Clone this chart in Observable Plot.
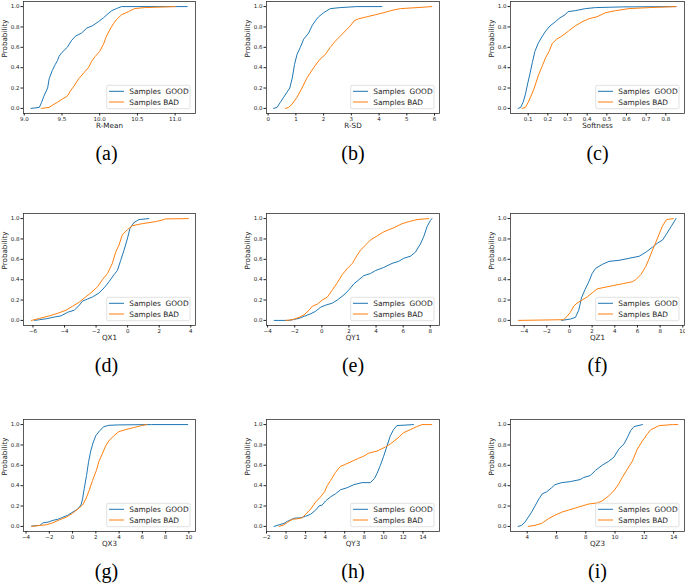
<!DOCTYPE html>
<html><head><meta charset="utf-8">
<script src="https://cdn.jsdelivr.net/npm/d3@7"></script>
<script src="https://cdn.jsdelivr.net/npm/@observablehq/plot@0.6"></script>
<style>
body{margin:0;background:#fff}
#fig{position:relative;width:685px;height:585px;overflow:hidden;background:#fff}
#fig svg{position:absolute}
</style>
</head><body><div id="fig"></div><script>
// ---------------- data ----------------
const rMeanGood = [[9.09,0],[9.2,0.01],[9.23,0.06],[9.26,0.12],[9.31,0.2],[9.33,0.29],[9.37,0.37],[9.41,0.43],[9.44,0.47],[9.46,0.51],[9.5,0.55],[9.57,0.6],[9.63,0.67],[9.68,0.71],[9.76,0.74],[9.83,0.79],[9.9,0.81],[9.98,0.85],[10.05,0.89],[10.11,0.93],[10.16,0.96],[10.22,0.98],[10.29,1.0],[11.16,1.0]];
const rMeanBad = [[9.23,0],[9.33,0.01],[9.37,0.03],[9.44,0.06],[9.5,0.09],[9.57,0.12],[9.61,0.17],[9.66,0.22],[9.72,0.29],[9.79,0.35],[9.85,0.4],[9.9,0.47],[9.94,0.51],[10.0,0.56],[10.05,0.63],[10.09,0.71],[10.14,0.78],[10.18,0.83],[10.22,0.87],[10.29,0.92],[10.38,0.95],[10.46,0.98],[10.59,0.99],[11.0,1.0]];

const rSdGood = [[0.2,0],[0.32,0.01],[0.44,0.06],[0.56,0.11],[0.68,0.16],[0.78,0.2],[0.87,0.3],[0.95,0.43],[1.04,0.53],[1.16,0.6],[1.28,0.68],[1.46,0.74],[1.58,0.81],[1.7,0.86],[1.82,0.9],[2.0,0.94],[2.24,0.98],[2.6,0.99],[3.2,1.0],[4.1,1.0]];
const rSdBad = [[0.62,0],[0.74,0.01],[0.86,0.04],[1.04,0.11],[1.22,0.2],[1.4,0.3],[1.64,0.4],[1.86,0.48],[2.06,0.53],[2.24,0.6],[2.42,0.66],[2.6,0.71],[2.78,0.76],[2.96,0.81],[3.1,0.86],[3.26,0.88],[3.56,0.9],[3.87,0.92],[4.17,0.94],[4.41,0.96],[4.77,0.98],[5.37,0.99],[5.9,1.0]];

const softGood = [[0.049,0],[0.062,0.01],[0.074,0.06],[0.086,0.14],[0.097,0.24],[0.109,0.34],[0.121,0.45],[0.134,0.56],[0.151,0.64],[0.172,0.71],[0.189,0.76],[0.211,0.81],[0.237,0.85],[0.262,0.89],[0.288,0.92],[0.302,0.95],[0.339,0.96],[0.391,0.98],[0.442,0.99],[0.579,0.997],[0.852,1.0]];
const softBad = [[0.069,0],[0.086,0.01],[0.1,0.06],[0.114,0.12],[0.131,0.2],[0.151,0.32],[0.172,0.42],[0.189,0.5],[0.206,0.56],[0.223,0.64],[0.245,0.68],[0.271,0.71],[0.305,0.76],[0.339,0.81],[0.374,0.85],[0.408,0.88],[0.45,0.9],[0.493,0.94],[0.544,0.96],[0.613,0.98],[0.715,0.99],[0.852,1.0]];

const qx1Good = [[-5.9,0],[-5.58,0.007],[-5.16,0.016],[-4.74,0.03],[-4.22,0.045],[-3.8,0.08],[-3.38,0.1],[-3.06,0.15],[-2.86,0.19],[-2.54,0.21],[-2.23,0.23],[-1.81,0.27],[-1.49,0.32],[-1.18,0.38],[-0.86,0.45],[-0.65,0.49],[-0.44,0.59],[-0.23,0.69],[-0.02,0.8],[0.14,0.9],[0.39,0.96],[0.71,0.99],[1.34,1.0]];
const qx1Bad = [[-6.1,0],[-5.58,0.02],[-4.95,0.045],[-4.43,0.07],[-3.9,0.1],[-3.48,0.14],[-3.06,0.18],[-2.75,0.22],[-2.33,0.27],[-1.91,0.33],[-1.6,0.4],[-1.28,0.46],[-0.97,0.56],[-0.76,0.67],[-0.55,0.74],[-0.34,0.84],[-0.02,0.89],[0.29,0.93],[0.92,0.95],[1.76,0.97],[2.18,0.985],[2.39,0.997],[3.85,1.0]];

const qy1Good = [[-3.51,0],[-2.41,0],[-2.04,0.01],[-1.67,0.02],[-1.31,0.04],[-0.82,0.065],[-0.45,0.09],[-0.08,0.13],[0.29,0.15],[0.78,0.17],[1.14,0.2],[1.63,0.25],[2.0,0.3],[2.37,0.36],[2.74,0.4],[3.1,0.44],[3.59,0.46],[3.96,0.49],[4.57,0.52],[5.18,0.56],[5.67,0.58],[6.04,0.61],[6.53,0.63],[6.9,0.67],[7.27,0.75],[7.51,0.82],[7.76,0.92],[8.0,0.98],[8.12,1.0]];
const qy1Bad = [[-2.65,0],[-2.16,0.007],[-1.67,0.03],[-1.31,0.055],[-0.94,0.1],[-0.69,0.14],[-0.33,0.16],[0.04,0.2],[0.41,0.23],[0.78,0.3],[1.14,0.37],[1.51,0.45],[1.88,0.51],[2.25,0.56],[2.61,0.64],[2.86,0.69],[3.22,0.74],[3.59,0.79],[4.08,0.83],[4.57,0.87],[5.31,0.91],[5.92,0.95],[6.41,0.97],[7.02,0.99],[7.88,1.0]];

const qz1Good = [[-0.7,0],[0.08,0.013],[0.53,0.03],[0.82,0.1],[1.06,0.22],[1.36,0.3],[1.71,0.38],[2.0,0.46],[2.3,0.51],[2.89,0.55],[3.49,0.58],[4.37,0.59],[5.26,0.61],[6.15,0.63],[6.74,0.67],[7.33,0.72],[7.78,0.76],[8.22,0.79],[8.57,0.85],[8.96,0.92],[9.4,1.0]];
const qz1Bad = [[-4.5,0],[-0.51,0.007],[-0.21,0.04],[0.08,0.08],[0.38,0.14],[0.67,0.17],[1.12,0.2],[1.56,0.23],[2.0,0.27],[2.45,0.31],[2.89,0.32],[3.78,0.34],[4.67,0.36],[5.56,0.38],[5.85,0.4],[6.3,0.45],[6.74,0.53],[7.04,0.61],[7.33,0.69],[7.63,0.77],[7.92,0.85],[8.22,0.93],[8.57,0.99],[9.17,1.0]];

const qx3Good = [[-3.52,0.003],[-2.81,0.01],[-2.53,0.036],[-2.11,0.042],[-1.68,0.06],[-1.26,0.07],[-0.84,0.09],[-0.41,0.11],[0.01,0.14],[0.44,0.17],[0.72,0.21],[0.86,0.27],[1.0,0.37],[1.2,0.5],[1.37,0.63],[1.56,0.74],[1.76,0.82],[1.99,0.89],[2.33,0.94],[2.69,0.98],[3.12,0.993],[3.97,0.997],[6.8,1.0],[9.9,1.0]];
const qx3Bad = [[-3.52,0],[-2.81,0.01],[-2.25,0.016],[-1.68,0.036],[-1.12,0.065],[-0.55,0.09],[0.01,0.13],[0.44,0.17],[0.86,0.21],[1.14,0.27],[1.42,0.35],[1.71,0.45],[2.05,0.55],[2.27,0.64],[2.55,0.71],[2.84,0.79],[3.12,0.84],[3.54,0.89],[3.97,0.93],[4.53,0.95],[5.24,0.97],[5.94,0.99],[6.37,1.0]];

const qy3Good = [[-1.22,0],[-0.71,0.016],[-0.2,0.03],[0.14,0.05],[0.48,0.065],[0.82,0.08],[1.5,0.085],[2.01,0.1],[2.52,0.12],[3.03,0.16],[3.37,0.2],[3.7,0.21],[4.04,0.25],[4.55,0.29],[5.06,0.32],[5.57,0.36],[6.25,0.38],[6.93,0.41],[7.78,0.43],[8.63,0.43],[9.04,0.47],[9.31,0.52],[9.65,0.6],[9.99,0.69],[10.33,0.79],[10.67,0.89],[11.0,0.95],[11.34,0.99],[13.04,1.0]];
const qy3Bad = [[-0.71,0],[-0.2,0.016],[0.14,0.04],[0.65,0.07],[1.16,0.075],[1.67,0.085],[2.01,0.12],[2.52,0.17],[3.03,0.24],[3.53,0.29],[3.94,0.34],[4.21,0.4],[4.55,0.45],[5.06,0.53],[5.57,0.59],[6.08,0.61],[6.76,0.64],[7.44,0.67],[7.95,0.69],[8.46,0.72],[9.31,0.74],[10.16,0.78],[10.67,0.81],[11.34,0.86],[12.02,0.92],[12.7,0.95],[13.38,0.98],[13.89,1.0],[14.91,1.0]];

const qz3Good = [[3.38,0],[3.61,0.01],[3.84,0.04],[4.07,0.09],[4.3,0.14],[4.53,0.2],[4.8,0.27],[5.03,0.32],[5.33,0.34],[5.67,0.38],[5.9,0.41],[6.36,0.43],[6.94,0.44],[7.62,0.46],[7.85,0.48],[8.31,0.5],[8.66,0.55],[9.11,0.6],[9.57,0.64],[9.92,0.68],[10.26,0.76],[10.61,0.81],[10.83,0.87],[11.06,0.94],[11.29,0.98],[11.87,1.0]];
const qz3Bad = [[4.07,0],[4.53,0.01],[4.99,0.03],[5.44,0.075],[5.9,0.11],[6.36,0.14],[6.82,0.16],[7.28,0.18],[7.74,0.2],[8.2,0.22],[8.77,0.23],[9.11,0.25],[9.57,0.3],[9.92,0.35],[10.26,0.42],[10.49,0.48],[10.83,0.56],[11.18,0.64],[11.52,0.76],[11.87,0.84],[12.21,0.91],[12.44,0.95],[13.01,0.99],[13.93,1.0],[14.28,1.0]];

const xLabels = ["R-Mean","R-SD","Softness","QX1","QY1","QZ1","QX3","QY3","QZ3"];
const captions = ["(a)","(b)","(c)","(d)","(e)","(f)","(g)","(h)","(i)"];
const xDomains = [[8.99,11.27],[-0.06,6.18],[0.01,0.895],[-6.6,4.3],[-4.08,8.68],[-5.2,10.15],[-4.22,10.57],[-2.0,15.7],[2.86,14.74]];
const xTicks = [
  [9.0,9.5,10.0,10.5,11.0],[0,1,2,3,4,5,6],[0.1,0.2,0.3,0.4,0.5,0.6,0.7,0.8],
  [-6,-4,-2,0,2,4],[-4,-2,0,2,4,6,8],[-4,-2,0,2,4,6,8,10],
  [-4,-2,0,2,4,6,8,10],[-2,0,2,4,6,8,10,12,14],[4,6,8,10,12,14]
];
const xFormats = [".1f","d",".1f","d","d","d","d","d","d"];
const yTicks = [0,0.2,0.4,0.6,0.8,1.0];
const goodSeries = [rMeanGood,rSdGood,softGood,qx1Good,qy1Good,qz1Good,qx3Good,qy3Good,qz3Good];
const badSeries = [rMeanBad,rSdBad,softBad,qx1Bad,qy1Bad,qz1Bad,qx3Bad,qy3Bad,qz3Bad];
const legendLabels = ["Samples  GOOD","Samples BAD"];

// ---------------- layout ----------------
const GOOD = "#1f77b4", BAD = "#ff7f0e";
const colLeft = [0, 230, 455], colML = [23, 36, 55], colFW = [172, 173, 174], colMR = [5, 6, 1];
const rowFrameTop = [1, 213, 419], FH = 112, rowMB = [60, 60, 54], MT = 2;
const fig = document.getElementById("fig");
const toObj = a => a.map(([x, y]) => ({x, y}));

for (let i = 0; i < 9; i++) {
  const c = i % 3, r = Math.floor(i / 3);
  const width = colML[c] + colFW[c] + colMR[c];
  const height = MT + FH + rowMB[r];
  const svg = Plot.plot({
    width, height,
    marginLeft: colML[c], marginRight: colMR[c], marginTop: MT, marginBottom: rowMB[r],
    style: {fontFamily: "DejaVu Sans", fontSize: "5.5px", background: "transparent", overflow: "visible", color: "#222"},
    x: {domain: xDomains[i]},
    y: {domain: [-0.05, 1.05]},
    marks: [
      Plot.line(toObj(goodSeries[i]), {x: "x", y: "y", stroke: GOOD, strokeWidth: 1}),
      Plot.line(toObj(badSeries[i]), {x: "x", y: "y", stroke: BAD, strokeWidth: 1}),
      Plot.frame({stroke: "#333", strokeWidth: 0.8}),
      Plot.axisX({ticks: xTicks[i], tickFormat: d3.format(xFormats[i]), tickSize: 2.5, tickPadding: 1, label: null}),
      Plot.axisY({ticks: yTicks, tickFormat: d3.format(".1f"), tickSize: 2.5, tickPadding: 1.5, label: null}),
      Plot.text([xLabels[i]], {text: d => d, frameAnchor: "bottom", dy: 14, fontSize: 7.2}),
      Plot.text(["Probability"], {text: d => d, frameAnchor: "left", dx: -19, rotate: -90, fontSize: 7.2}),
      Plot.text([captions[i]], {text: d => d, frameAnchor: "bottom", dy: 46, dx: c === 0 ? -3 : 0, fontSize: 20, fontFamily: "Liberation Serif", fill: "#000"})
    ]
  });
  svg.style.left = colLeft[c] + "px";
  svg.style.top = (rowFrameTop[r] - MT) + "px";

  // legend (matplotlib style, lower right inside the axes)
  const fr = colML[c] + colFW[c], fb = MT + FH;
  const bw = 83.3, bh = 23.4;
  const x0 = fr - 5 - bw, y0 = fb - 4.3 - bh;
  const g = d3.select(svg).append("g").attr("font-family", "DejaVu Sans").attr("text-anchor", "start");
  g.append("rect").attr("x", x0).attr("y", y0).attr("width", bw).attr("height", bh)
    .attr("rx", 1.5).attr("fill", "#fff").attr("fill-opacity", 0.8)
    .attr("stroke", "#ccc").attr("stroke-width", 0.6);
  [[legendLabels[0], GOOD, 6], [legendLabels[1], BAD, 16.7]].forEach(([t, col, dy]) => {
    g.append("line").attr("x1", x0 + 2.3).attr("x2", x0 + 17.3)
      .attr("y1", y0 + dy).attr("y2", y0 + dy).attr("stroke", col).attr("stroke-width", 1);
    g.append("text").attr("x", x0 + 22.6).attr("y", y0 + dy).attr("dy", "0.35em")
      .attr("text-anchor", "start").attr("font-size", 7.4).attr("fill", "#222")
      .style("white-space", "pre").text(t);
  });
  fig.appendChild(svg);
}
</script></body></html>
